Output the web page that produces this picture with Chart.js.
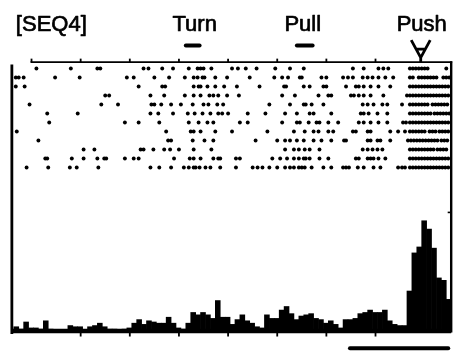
<!DOCTYPE html>
<html><head><meta charset="utf-8">
<script src="https://cdn.jsdelivr.net/npm/chart.js@4/dist/chart.umd.min.js"></script>
<style>html,body{margin:0;padding:0;background:#fff}#wrap{width:466px;height:356px}</style>
</head><body><div id="wrap"><canvas id="c" width="466" height="356"></canvas></div>
<script>
// ---------- data (time in s, aligned on Push) ----------
const panelTitle = '[SEQ4]';
const eventNames = ['Turn', 'Pull', 'Push'];
const eventLabelTimes = [-2.34, -1.24, -0.03];
const turnBar = [-2.43, -2.29];
const pullBar = [-1.30, -1.14];
const pushMarkerTime = -0.04;
const topTicks = [-4.0, -3.5, -3.0, -2.5, -2.0, -1.5, -1.0, -0.5];
const bottomTicks = [-3.5, -3.0, -2.5, -2.0, -1.5, -1.0, -0.5];
const rateTicks = [25, 100];
const scaleBar = [-0.76, 0.24];          // 1 s calibration bar
const binStart = -4.18, binWidth = 0.05;
const rate = [4,2,8,3,3,2,9,2,0,0, 0,5,4,4,1,4,5,7,4,2, 2,1,2,3,7,10,6,9,8,7,
  7,12,7,3,2,7,16,14,16,14, 11,26,12,12,6,10,14,9,7,4, 3,14,11,11,18,21,15,10,13,14,
  15,11,10,7,9,6,3,10,10,11, 15,16,18,16,16,18,9,6,5,5, 34,66,71,93,86,70,45,43,27];
const trial01 = [-3.95,-3.60,-3.33,-3.30,-2.86,-2.81,-2.67,-2.56,-2.40,-2.31,-2.28,-2.25,-2.17,-1.96,-1.90,-1.82,-1.71,-1.52,-1.37,-1.23,-0.73,-0.62,-0.47,-0.42,-0.37,-0.15,-0.12,-0.09,-0.06,-0.03,0,0.03,0.22];
const trial02 = [-4.16,-4.13,-4.08,-3.76,-3.51,-3.03,-2.96,-2.75,-2.60,-2.44,-2.35,-2.31,-2.26,-2.24,-2.13,-2.01,-1.78,-1.53,-1.45,-1.39,-1.27,-1.25,-1.05,-1.00,-0.83,-0.78,-0.73,-0.63,-0.58,-0.53,-0.47,-0.40,-0.32,-0.15,-0.12,-0.06,-0.03,0,0.03,0.06,0.09,0.12,0.19,0.22,0.25];
const trial03 = [-4.16,-4.07,-2.91,-2.67,-2.64,-2.35,-2.30,-2.28,-2.21,-2.13,-2.04,-1.91,-1.68,-1.43,-1.41,-1.23,-1.17,-1.03,-1.00,-0.80,-0.70,-0.67,-0.62,-0.55,-0.47,-0.35,-0.15,-0.12,-0.09,-0.06,-0.03,0,0.03,0.06,0.09,0.12,0.15,0.18,0.21,0.24];
const trial04 = [-3.25,-3.21,-2.79,-2.65,-2.44,-2.35,-2.28,-2.19,-2.15,-2.10,-2.01,-1.89,-1.45,-1.32,-1.08,-0.98,-0.95,-0.75,-0.72,-0.67,-0.62,-0.55,-0.42,-0.18,-0.15,-0.12,-0.09,-0.06,-0.03,0,0.03,0.06,0.09,0.12,0.15,0.18,0.21,0.24];
const trial05 = [-4.02,-3.29,-3.12,-2.78,-2.75,-2.68,-2.58,-2.48,-2.36,-2.25,-2.20,-2.11,-2.05,-1.58,-1.37,-1.23,-1.21,-1.15,-1.03,-0.63,-0.58,-0.52,-0.43,-0.38,-0.23,-0.15,-0.12,-0.09,-0.06,-0.03,0,0.03,0.08,0.11,0.14,0.17,0.20,0.23];
const trial06 = [-3.84,-3.53,-2.79,-2.71,-2.56,-2.41,-2.34,-2.26,-2.18,-2.10,-2.06,-2.00,-1.80,-1.62,-1.42,-1.30,-1.17,-1.13,-0.95,-0.65,-0.62,-0.57,-0.48,-0.38,-0.15,-0.12,-0.09,-0.06,-0.03,0,0.03,0.06,0.10,0.13,0.16,0.19,0.22,0.25];
const trial07 = [-3.82,-3.05,-2.91,-2.70,-2.40,-2.30,-2.21,-2.15,-1.88,-1.80,-1.45,-1.30,-1.27,-1.18,-1.10,-1.07,-0.98,-0.88,-0.67,-0.62,-0.55,-0.47,-0.38,-0.22,-0.19,-0.15,-0.12,-0.09,-0.06,-0.03,0,0.03,0.06,0.09,0.12,0.15,0.18,0.21,0.24];
const trial08 = [-4.15,-2.63,-2.38,-2.35,-2.28,-2.13,-1.96,-1.60,-1.33,-1.22,-1.13,-1.08,-0.98,-0.93,-0.73,-0.70,-0.58,-0.55,-0.35,-0.27,-0.20,-0.15,-0.12,-0.09,-0.06,-0.03,0,0.05,0.08,0.11,0.15,0.18,0.21,0.24];
const trial09 = [-3.93,-2.61,-2.58,-2.36,-2.24,-2.15,-1.72,-1.50,-1.42,-1.37,-1.30,-1.23,-1.13,-1.05,-0.95,-0.82,-0.80,-0.58,-0.55,-0.48,-0.45,-0.35,-0.17,-0.14,-0.11,-0.08,-0.05,-0.02,0.01,0.04,0.07,0.10,0.13,0.17,0.20,0.23];
const trial10 = [-3.47,-3.36,-2.89,-2.86,-2.76,-2.65,-2.59,-2.50,-2.35,-2.17,-1.42,-1.33,-1.28,-1.22,-1.17,-1.07,-0.63,-0.58,-0.53,-0.48,-0.43,-0.15,-0.12,-0.09,-0.06,-0.03,0,0.03,0.06,0.09,0.13,0.16,0.19,0.22];
const trial11 = [-3.86,-3.84,-3.59,-3.47,-3.33,-3.26,-3.24,-3.05,-2.96,-2.91,-2.55,-2.39,-2.35,-2.28,-2.15,-2.10,-2.08,-1.92,-1.88,-1.55,-1.47,-1.40,-1.33,-1.28,-1.23,-1.21,-1.17,-1.07,-0.98,-0.70,-0.67,-0.58,-0.55,-0.52,-0.47,-0.40,-0.15,-0.12,-0.09,-0.06,-0.03,0,0.03,0.06,0.09,0.12,0.15,0.18,0.21,0.24];
const trial12 = [-4.05,-3.83,-3.61,-3.54,-3.32,-2.79,-2.70,-2.58,-2.45,-2.40,-2.35,-2.33,-2.29,-2.23,-2.18,-2.08,-1.92,-1.75,-1.70,-1.65,-1.58,-1.50,-1.42,-1.37,-1.33,-1.28,-1.25,-1.22,-1.15,-1.03,-0.95,-0.83,-0.80,-0.77,-0.68,-0.62,-0.52,-0.45,-0.27,-0.23,-0.20,-0.15,-0.12,-0.09,-0.06,-0.03,0,0.03,0.06,0.09,0.12,0.15,0.18,0.21,0.24];
const trials = [trial01,trial02,trial03,trial04,trial05,trial06,trial07,trial08,trial09,trial10,trial11,trial12];

// ---------- layout constants (scale units) ----------
const X_MIN = -4.28, X_MAX = 0.38, X_LEFT = -4.20, X_RIGHT = 0.27;
const AXIS_ROW = 0.29, LEFT_TOP_ROW = 0.55, EVENT_BAR_ROW = -1.55, LABEL_ROW = -3.13, SCALEBAR_RATE = -14;

const binCenters = rate.map((_, i) => +(binStart + binWidth * (i + 0.5)).toFixed(4));
const rasterPts = [];
trials.forEach((tr, k) => tr.forEach(t => rasterPts.push({x: t, y: k + 1})));

const seg = (ctx, x1, y1, x2, y2, w) => { ctx.lineWidth = w; ctx.beginPath(); ctx.moveTo(x1, y1); ctx.lineTo(x2, y2); ctx.stroke(); };

const framePlugin = {
  id: 'frame',
  afterDatasetsDraw(chart) {
    const {ctx, scales: {x, yH, yR}} = chart;
    const px = t => x.getPixelForValue(t);
    const axisY = yR.getPixelForValue(AXIS_ROW);
    const baseY = yH.getPixelForValue(0);
    const L = px(X_LEFT), R = px(X_RIGHT);
    ctx.save();
    ctx.strokeStyle = '#000'; ctx.fillStyle = '#000'; ctx.lineCap = 'butt';
    seg(ctx, px(topTicks[0]) - 1, axisY, R + 1, axisY, 1.9);
    topTicks.forEach(t => seg(ctx, px(t), axisY, px(t), axisY - 3.5, 1.8));
    seg(ctx, L, yR.getPixelForValue(LEFT_TOP_ROW), L, baseY + 2.5, 2.8);
    seg(ctx, R, axisY - 1, R, baseY + 1, 2.4);
    seg(ctx, L, baseY - 0.5, R, baseY - 0.5, 4.5);
    bottomTicks.forEach(t => seg(ctx, px(t), baseY, px(t), baseY + 5, 1.8));
    rateTicks.forEach(v => seg(ctx, R, yH.getPixelForValue(v), R - 3.5, yH.getPixelForValue(v), 1.6));
    // Push alignment marker
    const mx = px(pushMarkerTime);
    ctx.lineWidth = 2.8; ctx.lineJoin = 'miter';
    ctx.beginPath();
    ctx.moveTo(mx - 9.5, axisY - 22); ctx.lineTo(mx, axisY - 4.5); ctx.lineTo(mx + 9.5, axisY - 22);
    ctx.moveTo(mx - 5, axisY - 13); ctx.lineTo(mx + 5, axisY - 13);
    ctx.moveTo(mx, axisY - 5); ctx.lineTo(mx, axisY);
    ctx.stroke();
    // texts
    const ty = yR.getPixelForValue(LABEL_ROW);
    ctx.font = '22px "Liberation Sans", Arial, sans-serif';
    ctx.textBaseline = 'alphabetic';
    ctx.lineWidth = 0.7; ctx.lineJoin = 'round';
    ctx.textAlign = 'left';
    ctx.fillText(panelTitle, px(X_LEFT) + 4, ty);
    ctx.strokeText(panelTitle, px(X_LEFT) + 4, ty);
    ctx.textAlign = 'center';
    eventNames.forEach((n, i) => { ctx.fillText(n, px(eventLabelTimes[i]), ty); ctx.strokeText(n, px(eventLabelTimes[i]), ty); });
    ctx.restore();
  }
};

new Chart(document.getElementById('c'), {
  type: 'scatter',
  data: {
    datasets: [
      { type: 'bar', data: binCenters.map((t, i) => ({x: t, y: rate[i]})), xAxisID: 'x', yAxisID: 'yH',
        backgroundColor: '#000', borderWidth: 0, barPercentage: 1, categoryPercentage: 1 },
      { type: 'scatter', data: rasterPts, xAxisID: 'x', yAxisID: 'yR',
        pointStyle: 'circle', pointRadius: 1.95, backgroundColor: '#000', borderWidth: 0 },
      { type: 'line', data: turnBar.map(t => ({x: t, y: EVENT_BAR_ROW})), xAxisID: 'x', yAxisID: 'yR',
        borderColor: '#000', borderWidth: 4, pointRadius: 0, borderCapStyle: 'round' },
      { type: 'line', data: pullBar.map(t => ({x: t, y: EVENT_BAR_ROW})), xAxisID: 'x', yAxisID: 'yR',
        borderColor: '#000', borderWidth: 4, pointRadius: 0, borderCapStyle: 'round' },
      { type: 'line', data: scaleBar.map(t => ({x: t, y: SCALEBAR_RATE})), xAxisID: 'x', yAxisID: 'yH',
        borderColor: '#000', borderWidth: 4, pointRadius: 0, borderCapStyle: 'round' }
    ]
  },
  options: {
    responsive: false, animation: false, events: [],
    layout: { padding: 0 },
    plugins: { legend: { display: false }, tooltip: { enabled: false }, title: { display: false } },
    scales: {
      x: { type: 'linear', min: X_MIN, max: X_MAX, display: false, offset: false, grid: { offset: false } },
      yH: { type: 'linear', min: -17.2, max: 275, display: false },
      yR: { type: 'linear', min: -6.174, max: 32.52, reverse: true, display: false }
    }
  },
  plugins: [framePlugin]
});
</script>
</body></html>
